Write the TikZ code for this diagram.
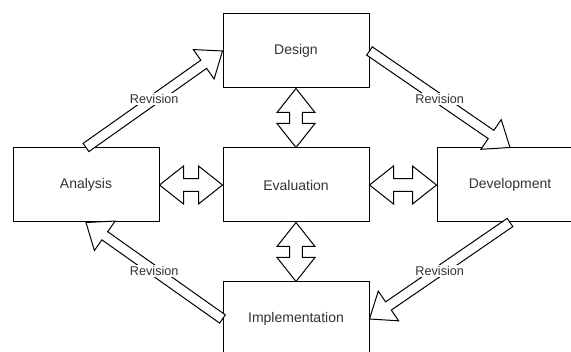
\documentclass[tikz,border=0pt]{standalone}
\usepackage{fontspec}
\setmainfont{Liberation Sans}
\usetikzlibrary{calc}
\definecolor{txt}{HTML}{333333}
\tikzset{
  box/.style={draw=black, line width=0.75pt, minimum width=109.5pt, minimum height=55.5pt,
    inner sep=0pt, font=\fontsize{10.5}{12}\selectfont, text=txt},
  blockarrow/.style={draw=black, line width=0.75pt, fill=white, line join=miter},
  revlabel/.style={fill=white, inner sep=1pt, font=\fontsize{9.5}{11}\selectfont, text=txt}
}
% single block arrow: #1 from, #2 to, #3 shaft half width, #4 head half width, #5 head length
\newcommand{\mysinglearrow}[5]{%
  \coordinate (hbA) at ($(#2)!#5!(#1)$);
  \draw[blockarrow] ($(#1)!#3!90:(#2)$) -- ($(hbA)!#3!90:(#2)$) -- ($(hbA)!#4!90:(#2)$)
    -- (#2) -- ($(hbA)!#4!-90:(#2)$) -- ($(hbA)!#3!-90:(#2)$) -- ($(#1)!#3!-90:(#2)$) -- cycle;
}
% double block arrow
\newcommand{\mydoublearrow}[5]{%
  \coordinate (hbB) at ($(#2)!#5!(#1)$);
  \coordinate (hbC) at ($(#1)!#5!(#2)$);
  \draw[blockarrow] (#1) -- ($(hbC)!#4!90:(#2)$) -- ($(hbC)!#3!90:(#2)$) -- ($(hbB)!#3!90:(#2)$)
    -- ($(hbB)!#4!90:(#2)$) -- (#2) -- ($(hbB)!#4!-90:(#2)$) -- ($(hbB)!#3!-90:(#2)$)
    -- ($(hbC)!#3!-90:(#2)$) -- ($(hbC)!#4!-90:(#2)$) -- cycle;
}
\begin{document}
\begin{tikzpicture}[x=0.75pt, y=-0.75pt]
\useasboundingbox (0,0) rectangle (571,352);
\clip (0,0) rectangle (571,352);
\fill[white] (0,0) rectangle (571,352);

\node[box] (design) at (296,51) {Design};
\node[box] (eval) at (296,185) {Evaluation};
\node[box] (analysis) at (86,185) {Analysis};
\node[box] (dev) at (510,185) {Development};
\node[box] (impl) at (296,319) {Implementation};

% double arrows
\mydoublearrow{design.south}{eval.north}{4.8pt}{14.25pt}{18pt}
\mydoublearrow{analysis.east}{eval.west}{4.8pt}{14.25pt}{18pt}
\mydoublearrow{eval.east}{dev.west}{4.8pt}{14.25pt}{18pt}
\mydoublearrow{eval.south}{impl.north}{4.8pt}{14.25pt}{18pt}

% revision arrows
\mysinglearrow{analysis.north}{design.west}{3.75pt}{13.5pt}{17.25pt}
\path (analysis.north) -- node[revlabel] {Revision} (design.west);
\mysinglearrow{design.east}{dev.north}{3.75pt}{13.5pt}{17.25pt}
\path (design.east) -- node[revlabel] {Revision} (dev.north);
\mysinglearrow{dev.south}{impl.east}{3.75pt}{13.5pt}{17.25pt}
\path (dev.south) -- node[revlabel] {Revision} (impl.east);
\mysinglearrow{impl.west}{analysis.south}{3.75pt}{13.5pt}{17.25pt}
\path (impl.west) -- node[revlabel] {Revision} (analysis.south);
\end{tikzpicture}
\end{document}
